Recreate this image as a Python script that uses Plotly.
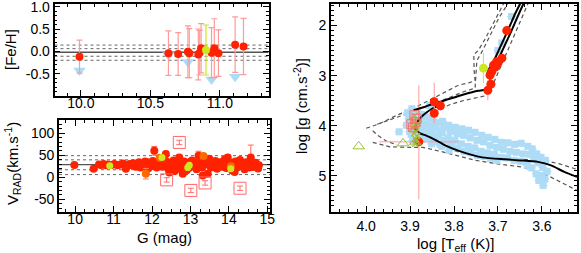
import plotly.graph_objects as go

W, H = 581, 253
FONT = "Liberation Sans, Arial, Helvetica, sans-serif"

RED = "#ff2200"
RED_ERR = "#ff6a5a"
RED_LIGHT = "#ff9a9a"
ORANGE = "#ff6a00"
YELLOW = "#cce81e"
BLUE = "#aedcf6"
GREEN = "#9cbf3a"

# ---------------- [Fe/H] panel data ----------------
feh_g = [9.99, 10.63, 10.70, 10.77, 10.78, 10.845, 10.855, 10.865, 10.94, 10.96, 10.99, 11.11, 11.17]
feh_val = [-0.12, -0.04, -0.06, -0.01, -0.04, -0.07, -0.03, 0.07, -0.03, 0.07, -0.04, 0.15, 0.11]
feh_err = [0.37, 0.50, 0.48, 0.58, 0.55, 0.57, 0.50, 0.55, 0.56, 0.66, 0.52, 0.62, 0.63]
feh_yel_g = [10.90]
feh_yel_val = [0.03]
feh_yel_err = [0.56]
feh_blue_g = [9.99, 10.63, 10.77, 10.94, 11.11]
feh_blue_val = [-0.43, -0.08, -0.24, -0.63, -0.57]
feh_mean = -0.02
feh_levels = [0.14, 0.06, -0.11, -0.20]

# ---------------- V_RAD panel data ----------------
vr_g = [9.98, 10.48, 10.62, 10.68, 10.74, 10.80, 10.86, 10.95, 11.02, 11.10, 11.18, 11.25, 11.32, 11.36, 11.42, 11.48,
        11.52, 11.58, 11.62, 11.66, 11.70, 11.74, 11.78, 11.82, 11.86, 11.90, 11.94, 11.98, 12.02, 12.06, 12.08, 12.12,
        12.16, 12.19, 12.23, 12.27, 12.31, 12.36, 12.38, 12.42, 12.45, 12.48,
        12.52, 12.56, 12.59, 12.63, 12.67, 12.71, 12.74, 12.78, 12.80, 12.84, 12.88, 12.93, 12.96, 13.00, 13.04, 13.08,
        13.12, 13.16, 13.21, 13.24, 13.28, 13.32, 13.36, 13.40, 13.45, 13.48, 13.49,
        13.53, 13.57, 13.61, 13.65, 13.69, 13.73, 13.77, 13.81, 13.85, 13.89, 13.93, 13.97, 14.01, 14.05, 14.09, 14.13,
        14.17, 14.21, 14.25, 14.29, 14.33, 14.37, 14.41, 14.45, 14.49, 14.53, 14.57, 14.61, 14.65, 14.69, 14.73, 14.76,
        14.78, 12.10, 12.40, 12.70, 13.00, 13.30, 13.60, 13.90, 14.20, 14.50, 14.70, 11.88, 12.33, 12.90, 13.15, 13.70,
        14.15, 14.62]
vr_v = [28, 19, 29, 28, 30, 27, 29, 28, 30, 27, 29, 31, 19, 26, 30, 27,
        32, 24, 29, 34, 22, 30, 26, 36, 28, 20, 31, 25, 37, 60, 29, 22,
        33, 27, 40, 24, 31, 53, 35, 20, 11, 30,
        26, 38, 14, 29, 33, 45, 24, 30, 8, 36, 27, 32, 21, 30, 38, 25,
        33, 18, 49, 31, 26, 4, 40, 29, 8, 35, 42,
        22, 31, 26, 37, 19, 30, 34, 24, 29, 40, 21, 45, 27, 33, 15, 30,
        36, 22, 28, 39, 25, 31, 18, 34, 27, 22, 45, 30, 25, 33, 28, 20,
        27, 30, 26, 20, 35, 22, 28, 24, 33, 26, 30, 34, 38, 16, 28, 33,
        12, 23]
vr_err = [2, 3, 2, 2, 2, 3, 2, 2, 3, 2, 2, 3, 4, 3, 3, 3,
          3, 4, 3, 3, 3, 3, 3, 4, 3, 4, 3, 3, 4, 10, 3, 4,
          3, 3, 4, 4, 3, 5, 4, 4, 5, 3,
          4, 4, 5, 3, 4, 5, 4, 3, 5, 4, 4, 4, 4, 3, 5, 4,
          4, 5, 10, 4, 4, 5, 5, 4, 6, 5, 5,
          5, 4, 5, 5, 5, 4, 5, 5, 4, 8, 5, 6, 5, 5, 6, 5,
          5, 6, 5, 6, 6, 5, 6, 6, 6, 6, 28, 6, 6, 6, 6, 6,
          6, 3, 4, 4, 4, 4, 5, 5, 5, 6, 6, 4, 4, 4, 5, 5,
          6, 6]
vr_or_g = [11.84, 13.34, 12.20, 14.05]
vr_or_v = [8, 48, 44, 25]
vr_or_err = [12, 5, 4, 5]
vr_yel_g = [10.90, 12.26, 12.93, 14.05, 12.97]
vr_yel_v = [26, 45, 22, 19, 27]
vr_yel_err = [2, 4, 6, 5, 5]
vr_out_g = [12.71, 12.38, 13.01, 13.38, 14.29]
vr_out_v = [79, -6, -30, -13, -25]
vr_out_err = [5, 5, 5, 5, 5]
vr_mean = 28.5
vr_levels = [49, 39.5, 17, 6]

# ---------------- HR diagram data ----------------
cloud_teff = [3.906, 3.903, 3.908, 3.901,
              3.896, 3.893, 3.897, 3.892, 3.898, 3.894,
              3.884, 3.887, 3.882, 3.886, 3.881,
              3.874, 3.877, 3.872, 3.876, 3.871,
              3.866, 3.863, 3.867, 3.862,
              3.856, 3.853, 3.858, 3.852, 3.857, 3.851,
              3.846, 3.843, 3.847, 3.842,
              3.836, 3.833, 3.837, 3.832,
              3.826, 3.823, 3.827, 3.822, 3.828,
              3.812, 3.808, 3.813, 3.807, 3.811,
              3.797, 3.793, 3.798, 3.792,
              3.782, 3.778, 3.783, 3.777,
              3.767, 3.763, 3.768, 3.762,
              3.752, 3.748, 3.753, 3.747,
              3.737, 3.733, 3.738, 3.732,
              3.722, 3.718, 3.723, 3.717,
              3.707, 3.703, 3.708, 3.702,
              3.692, 3.688, 3.693,
              3.677, 3.673, 3.678,
              3.662, 3.658, 3.663,
              3.647, 3.643, 3.648,
              3.632, 3.628, 3.633,
              3.622, 3.618, 3.623,
              3.612, 3.608, 3.613, 3.607,
              3.602, 3.598, 3.603, 3.597,
              3.592, 3.588, 3.593,
              3.925, 3.669, 3.691, 3.700]
cloud_logg = [3.74, 3.86, 3.99, 4.11,
              3.66, 3.79, 3.93, 4.06, 4.17, 4.29,
              3.71, 3.87, 4.01, 4.13, 4.24,
              3.77, 3.91, 4.03, 4.16, 4.27,
              3.82, 3.96, 4.07, 4.21,
              3.60, 3.84, 4.01, 4.13, 4.24, 4.36,
              3.92, 4.04, 4.19, 4.31,
              3.94, 4.09, 4.21, 4.37,
              3.91, 4.03, 4.14, 4.29, 4.41,
              3.99, 4.11, 4.24, 4.37, 4.49,
              4.03, 4.16, 4.29, 4.44,
              4.06, 4.19, 4.36, 4.51,
              4.09, 4.24, 4.41, 4.54,
              4.13, 4.29, 4.44, 4.59,
              4.19, 4.32, 4.51, 4.61,
              4.23, 4.39, 4.54, 4.65,
              4.27, 4.43, 4.57, 4.69,
              4.33, 4.47, 4.63,
              4.34, 4.51, 4.64,
              4.37, 4.53, 4.69,
              4.35, 4.56, 4.71,
              4.41, 4.57, 4.79,
              4.46, 4.66, 4.84,
              4.56, 4.74, 4.96, 5.09,
              4.63, 4.83, 4.99, 5.19,
              4.69, 4.91, 5.06,
              4.12, 1.82, 2.35, 2.50]

hr_red_teff = [3.680, 3.691, 3.703, 3.710, 3.714, 3.718, 3.716, 3.723, 3.700, 3.706, 3.845, 3.831, 3.845]
hr_red_logg = [2.10, 2.65, 2.72, 2.79, 2.92, 2.99, 3.17, 3.29, 2.75, 2.83, 3.52, 3.60, 3.75]
hr_red_err = [0.08, 0.08, 0.08, 0.08, 0.10, 0.10, 0.15, 0.20, 0.08, 0.08, 0.38, 0.10, 0.20]
hr_big_teff = [3.880]
hr_big_logg = [4.32]
hr_big_teff_err = [0.09]
hr_big_logg_up = [1.15]
hr_big_logg_down = [1.13]
hr_yel_teff = [3.733]
hr_yel_logg = [2.85]
hr_yel_err = [0.30]
hr_sq_teff = [3.890, 3.897, 3.888, 3.893, 3.885]
hr_sq_logg = [3.79, 3.97, 3.93, 4.03, 3.86]
hr_grn_teff = [3.890, 3.892, 3.887, 3.884, 3.889, 3.886, 3.891, 3.895, 3.882, 3.893, 3.888]
hr_grn_logg = [3.80, 4.00, 4.10, 4.20, 4.25, 4.30, 4.15, 4.05, 3.95, 3.90, 4.36]
hr_tri_teff = [4.017, 3.916, 3.888]
hr_tri_logg = [4.41, 4.35, 4.33]

iso_ms_teff = [3.52, 3.549, 3.579, 3.609, 3.65, 3.684, 3.736, 3.789, 3.82, 3.845, 3.862, 3.877,
               3.886, 3.888, 3.884, 3.874, 3.862, 3.850, 3.838]
iso_ms_logg = [5.02, 4.92, 4.79, 4.72, 4.69, 4.67, 4.63, 4.50, 4.39, 4.27, 4.20, 4.15,
               4.09, 4.02, 3.93, 3.82, 3.73, 3.66, 3.61]
iso_sgb_teff = [3.892, 3.87, 3.85, 3.82, 3.78, 3.745, 3.729, 3.721, 3.716, 3.706, 3.690, 3.670, 3.652, 3.638]
iso_sgb_logg = [3.69, 3.63, 3.57, 3.49, 3.38, 3.30, 3.28, 3.19, 3.02, 2.82, 2.50, 2.12, 1.76, 1.49]
iso_rgb2_teff = [3.724, 3.720, 3.714, 3.697, 3.677, 3.660, 3.645]
iso_rgb2_logg = [2.95, 2.86, 2.79, 2.47, 2.09, 1.75, 1.49]

dash1_teff = [4.00, 3.97, 3.93, 3.89, 3.856, 3.82, 3.79, 3.765, 3.752, 3.754, 3.755, 3.745, 3.73, 3.71, 3.683]
dash1_logg = [4.05, 3.96, 3.79, 3.64, 3.49, 3.33, 3.19, 3.14, 3.10, 2.92, 2.58, 2.50, 2.28, 1.95, 1.49]
dash2_teff = [3.975, 3.935, 3.895, 3.865, 3.835, 3.805, 3.775, 3.752, 3.748, 3.735, 3.718, 3.698, 3.672]
dash2_logg = [3.97, 3.85, 3.73, 3.63, 3.52, 3.41, 3.31, 3.25, 2.70, 2.50, 2.20, 1.85, 1.49]
dash3_teff = [3.855, 3.850, 3.846, 3.835, 3.81, 3.78, 3.75, 3.728, 3.715, 3.705, 3.69, 3.668, 3.645, 3.628]
dash3_logg = [4.16, 4.00, 3.82, 3.68, 3.58, 3.50, 3.45, 3.40, 3.25, 3.05, 2.75, 2.32, 1.85, 1.49]
dash4_teff = [3.858, 3.834, 3.79, 3.74, 3.69, 3.64, 3.594, 3.56, 3.527, 3.52]
dash4_logg = [4.30, 4.40, 4.52, 4.61, 4.65, 4.67, 4.69, 4.76, 4.85, 4.87]
dash5_teff = [3.985, 3.946, 3.90, 3.871, 3.826, 3.751, 3.70, 3.647, 3.587, 3.55, 3.52]
dash5_logg = [4.33, 4.42, 4.43, 4.43, 4.52, 4.69, 4.76, 4.82, 4.99, 5.15, 5.29]
dash6_teff = [3.985, 3.972, 3.955, 3.93]
dash6_logg = [4.10, 4.20, 4.30, 4.38]

fig = go.Figure()

# ---- top-left panel ----
fig.add_trace(go.Scatter(x=feh_blue_g, y=feh_blue_val, mode="markers", xaxis="x", yaxis="y",
                         marker=dict(symbol="triangle-down", size=11, color=BLUE, line=dict(width=0))))
fig.add_trace(go.Scatter(x=feh_g, y=feh_val, mode="markers", xaxis="x", yaxis="y",
                         error_y=dict(type="data", array=feh_err, color=RED_LIGHT, thickness=1.2, width=3),
                         marker=dict(symbol="circle", size=8, color=RED, line=dict(width=0))))
fig.add_trace(go.Scatter(x=feh_yel_g, y=feh_yel_val, mode="markers", xaxis="x", yaxis="y",
                         error_y=dict(type="data", array=feh_yel_err, color=YELLOW, thickness=1.2, width=3),
                         marker=dict(symbol="circle", size=8, color=YELLOW, line=dict(width=0))))

# ---- bottom-left panel ----
fig.add_trace(go.Scatter(x=vr_g, y=vr_v, mode="markers", xaxis="x2", yaxis="y2",
                         error_y=dict(type="data", array=vr_err, color=RED_ERR, thickness=1, width=3),
                         marker=dict(symbol="circle", size=8, color=RED, line=dict(width=0))))
fig.add_trace(go.Scatter(x=vr_or_g, y=vr_or_v, mode="markers", xaxis="x2", yaxis="y2",
                         error_y=dict(type="data", array=vr_or_err, color="#ff8060", thickness=1, width=3),
                         marker=dict(symbol="circle", size=8, color=ORANGE, line=dict(width=0))))
fig.add_trace(go.Scatter(x=vr_yel_g, y=vr_yel_v, mode="markers", xaxis="x2", yaxis="y2",
                         error_y=dict(type="data", array=vr_yel_err, color=YELLOW, thickness=1, width=2),
                         marker=dict(symbol="circle", size=7, color=YELLOW, line=dict(width=0))))
fig.add_trace(go.Scatter(x=vr_out_g, y=vr_out_v, mode="markers", xaxis="x2", yaxis="y2",
                         error_y=dict(type="data", array=vr_out_err, color="#ff6a6a", thickness=1, width=3),
                         marker=dict(symbol="square-open", size=12, color="#ff6a6a", line=dict(width=1))))

# ---- HR diagram ----
for tx, ty in [(dash1_teff, dash1_logg), (dash2_teff, dash2_logg), (dash3_teff, dash3_logg),
               (dash4_teff, dash4_logg), (dash5_teff, dash5_logg), (dash6_teff, dash6_logg)]:
    fig.add_trace(go.Scatter(x=tx, y=ty, mode="lines", xaxis="x3", yaxis="y3",
                             line=dict(color="#555555", width=1.2, dash="4px,3px")))
fig.add_trace(go.Scatter(x=cloud_teff, y=cloud_logg, mode="markers", xaxis="x3", yaxis="y3",
                         error_y=dict(type="constant", value=0.07, color=BLUE, thickness=1, width=0),
                         error_x=dict(type="constant", value=0.010, color=BLUE, thickness=1, width=0),
                         marker=dict(symbol="square", size=7, color=BLUE, line=dict(width=0))))
fig.add_trace(go.Scatter(x=hr_big_teff, y=hr_big_logg, mode="markers", xaxis="x3", yaxis="y3",
                         error_x=dict(type="data", array=hr_big_teff_err, color=RED_LIGHT, thickness=1, width=0),
                         error_y=dict(type="data", array=hr_big_logg_up, arrayminus=hr_big_logg_down,
                                      color=RED_LIGHT, thickness=1, width=0),
                         marker=dict(symbol="circle", size=9, color=RED, line=dict(width=0))))
for tx, ty in [(iso_ms_teff, iso_ms_logg), (iso_sgb_teff, iso_sgb_logg), (iso_rgb2_teff, iso_rgb2_logg)]:
    fig.add_trace(go.Scatter(x=tx, y=ty, mode="lines", xaxis="x3", yaxis="y3",
                             line=dict(color="black", width=2, shape="spline", smoothing=0.6)))
fig.add_trace(go.Scatter(x=hr_grn_teff, y=hr_grn_logg, mode="markers", xaxis="x3", yaxis="y3",
                         marker=dict(symbol="x-thin-open", size=6, color=GREEN, line=dict(width=1.2, color=GREEN))))
fig.add_trace(go.Scatter(x=hr_sq_teff, y=hr_sq_logg, mode="markers", xaxis="x3", yaxis="y3",
                         marker=dict(symbol="square-open", size=9, color="#ff6a6a", line=dict(width=1))))
fig.add_trace(go.Scatter(x=hr_tri_teff, y=hr_tri_logg, mode="markers", xaxis="x3", yaxis="y3",
                         marker=dict(symbol="triangle-up-open", size=10, color=GREEN, line=dict(width=1))))
fig.add_trace(go.Scatter(x=hr_yel_teff, y=hr_yel_logg, mode="markers", xaxis="x3", yaxis="y3",
                         error_y=dict(type="data", array=hr_yel_err, color=YELLOW, thickness=1, width=0),
                         marker=dict(symbol="circle", size=9, color=YELLOW, line=dict(width=0))))
fig.add_trace(go.Scatter(x=hr_red_teff, y=hr_red_logg, mode="markers", xaxis="x3", yaxis="y3",
                         error_y=dict(type="data", array=hr_red_err, color=RED_LIGHT, thickness=1, width=0),
                         marker=dict(symbol="circle", size=9, color=RED, line=dict(width=0))))

# ---- reference lines ----
shapes = []
shapes.append(dict(type="line", xref="x domain", yref="y", x0=0, x1=1, y0=feh_mean, y1=feh_mean,
                   line=dict(color="#555555", width=1.3), layer="below"))
for lv in feh_levels:
    shapes.append(dict(type="line", xref="x domain", yref="y", x0=0, x1=1, y0=lv, y1=lv,
                       line=dict(color="#666666", width=1, dash="dot"), layer="below"))
shapes.append(dict(type="line", xref="x2 domain", yref="y2", x0=0, x1=1, y0=vr_mean, y1=vr_mean,
                   line=dict(color="#555555", width=1.3), layer="below"))
for lv in vr_levels:
    shapes.append(dict(type="line", xref="x2 domain", yref="y2", x0=0, x1=1, y0=lv, y1=lv,
                       line=dict(color="#666666", width=1, dash="dot"), layer="below"))


def ax(domain, rng, tickvals, ticktext, minor_dtick, standoff, anchor):
    return dict(domain=domain, range=rng, tickvals=tickvals, ticktext=ticktext, anchor=anchor,
                automargin=False, ticklabeloverflow="allow",
                showline=True, linecolor="black", linewidth=1.6, mirror="allticks",
                ticks="inside", ticklen=6, tickwidth=1.2, tickcolor="black",
                minor=dict(ticks="inside", ticklen=3, tickwidth=1, tickcolor="black", dtick=minor_dtick,
                           showgrid=False),
                showgrid=False, zeroline=False, ticklabelstandoff=standoff,
                tickfont=dict(family=FONT, size=14, color="black"))


fig.update_layout(
    width=W, height=H, margin=dict(l=0, r=0, t=0, b=0, autoexpand=False),
    paper_bgcolor="white", plot_bgcolor="white", showlegend=False,
    font=dict(family=FONT, color="black"),
    shapes=shapes,
    xaxis=ax([54.5 / W, 268.5 / W], [9.81, 11.35], [10.0, 10.5, 11.0], ["10.0", "10.5", "11.0"], 0.1, -7, "y"),
    yaxis=ax([1 - 96 / H, 1 - 4 / H], [-1.0, 1.06], [-0.5, 0.0, 0.5, 1.0], ["-0.5", "0.0", "0.5", "1.0"], 0.1, 0, "x"),
    xaxis2=ax([59 / W, 270 / W], [9.58, 15.07], [10, 11, 12, 13, 14, 15], ["10", "11", "12", "13", "14", "15"], 0.25, -7, "y2"),
    yaxis2=ax([1 - 212 / H, 1 - 120 / H], [-79, 130], [-50, 0, 50, 100], ["-50", "0", "50", "100"], 10, 0, "x2"),
    xaxis3=ax([331 / W, 577 / W], [4.08, 3.52], [4.0, 3.9, 3.8, 3.7, 3.6], ["4.0", "3.9", "3.8", "3.7", "3.6"], 0.02, 0, "y3"),
    yaxis3=ax([1 - 212 / H, 1 - 4 / H], [5.72, 1.57], [2, 3, 4, 5], ["2", "3", "4", "5"], 0.1, 0, "x3"),
)

annots = [
    dict(text="[Fe/H]", x=10 / W, y=1 - 49 / H, textangle=-90),
    dict(text="V<sub>RAD</sub>(km.s<sup>-1</sup>)", x=12 / W, y=1 - 164 / H, textangle=-90),
    dict(text="G (mag)", x=164 / W, y=1 - 237 / H, textangle=0),
    dict(text="log [g (cm.s<sup>-2</sup>)]", x=300 / W, y=1 - 106 / H, textangle=-90),
    dict(text="log [T<sub>eff</sub> (K)]", x=455 / W, y=1 - 244 / H, textangle=0),
]
for a in annots:
    fig.add_annotation(text=a["text"], x=a["x"], y=a["y"], xref="paper", yref="paper",
                       textangle=a["textangle"], showarrow=False, xanchor="center", yanchor="middle",
                       font=dict(family=FONT, size=15, color="black"))

fig.write_html("out.html", config={"displayModeBar": False},
               post_script="document.body.style.margin='0';document.body.style.padding='0';")
